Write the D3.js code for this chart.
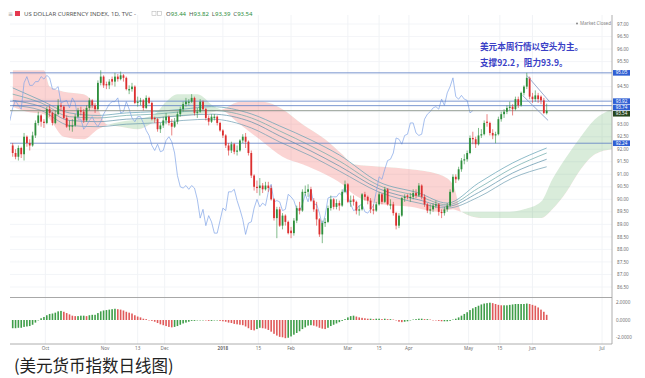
<!DOCTYPE html>
<html>
<head>
<meta charset="utf-8">
<script src="https://cdn.jsdelivr.net/npm/d3@7"></script>
<style>
  html, body { margin: 0; padding: 0; background: #fff; }
  svg { display: block; font-family: "Noto Sans", "DejaVu Sans", sans-serif; }
</style>
</head>
<body>
<div id="chart"></div>
<script>
// daily bars, Sep 14 2017 .. Jun 7 2018 (index = bar number)
const opens = [92.15,91.85,91.70,92.05,91.80,92.50,92.25,92.15,92.55,93.05,93.35,93.10,93.05,93.60,93.45,93.05,93.40,93.75,93.70,93.25,
  92.90,92.90,92.95,93.30,93.55,93.50,93.15,93.65,93.95,93.75,93.60,94.65,94.90,94.60,94.55,94.80,94.70,94.90,94.80,94.95,
  94.85,94.35,94.40,94.50,93.85,93.90,93.95,93.65,94.05,93.85,93.25,93.20,92.80,92.95,93.15,93.30,93.05,92.90,93.10,93.40,
  93.60,93.80,93.85,93.90,94.05,93.45,93.50,93.90,93.60,93.25,93.10,93.25,93.30,93.05,92.75,92.55,92.15,91.95,92.20,91.90,
  91.95,92.35,92.50,92.30,91.85,90.95,90.50,90.45,90.55,90.40,90.55,90.45,90.00,89.25,89.60,88.95,89.35,89.10,88.75,88.65,
  89.15,89.65,89.55,90.25,90.30,90.40,89.95,89.60,89.20,88.60,89.05,89.10,89.65,90.00,89.70,89.85,89.75,90.30,90.60,89.90,
  90.00,89.90,89.55,89.60,90.20,90.10,89.95,89.60,89.55,89.80,90.20,89.90,90.40,89.75,89.80,89.45,88.95,89.35,90.05,90.15,
  90.05,90.10,90.25,90.15,90.55,90.10,89.80,89.55,89.60,89.75,89.80,89.50,89.45,89.60,89.75,90.30,90.90,90.80,91.20,91.55,
  91.60,91.85,92.45,92.40,92.20,92.55,92.60,93.10,93.05,92.65,92.55,92.60,93.20,93.40,93.50,93.65,93.70,93.60,94.00,93.75,
  94.25,94.50,94.85,94.10,94.00,94.15,94.10,93.95,93.44];
const highs = [92.25,92.00,92.15,92.10,92.65,92.55,92.40,92.70,93.15,93.50,93.40,93.20,93.70,93.75,93.50,93.55,94.00,93.85,93.75,93.35,
  93.15,93.20,93.40,93.65,93.70,93.60,93.75,94.05,94.00,93.85,94.75,95.15,94.95,94.70,94.80,94.90,95.05,95.00,95.10,95.00,
  94.90,94.55,94.65,94.55,94.10,94.05,94.00,94.15,94.10,93.90,93.30,93.25,93.05,93.30,93.45,93.35,93.20,93.25,93.50,93.70,
  93.90,94.05,94.00,94.20,94.10,93.65,94.00,93.95,93.65,93.35,93.40,93.40,93.35,93.10,92.80,92.60,92.25,92.30,92.25,92.15,
  92.40,92.60,92.65,92.35,91.95,91.00,90.75,90.85,90.65,90.70,90.70,90.55,90.05,89.70,89.70,89.45,89.40,89.15,88.90,89.25,
  89.75,89.90,90.40,90.55,90.60,90.50,90.05,89.90,89.25,89.15,89.25,89.75,90.15,90.05,90.00,89.95,90.40,90.75,90.65,90.15,
  90.15,89.95,89.75,90.25,90.30,90.15,90.05,89.80,89.90,90.30,90.25,90.50,90.45,90.00,89.90,89.50,89.45,90.10,90.20,90.20,
  90.25,90.40,90.40,90.65,90.60,90.20,89.85,89.80,89.85,89.95,89.85,89.60,89.70,89.85,90.40,91.00,91.00,91.30,91.65,91.80,
  91.95,92.55,92.70,92.50,92.85,92.80,93.15,93.40,93.10,92.80,92.70,93.30,93.50,93.60,93.75,93.90,93.80,94.10,94.10,94.30,
  94.55,95.05,94.90,94.25,94.35,94.25,94.15,94.05,93.82];
const lows = [91.70,91.60,91.55,91.65,91.55,92.10,91.95,92.10,92.45,92.95,92.90,92.85,93.00,93.30,92.95,93.00,93.35,93.55,93.20,92.85,
  92.75,92.70,92.90,93.25,93.35,93.05,93.10,93.55,93.65,93.45,93.55,94.55,94.45,94.40,94.40,94.55,94.50,94.70,94.75,94.70,
  94.35,94.20,94.30,93.80,93.70,93.75,93.55,93.60,93.80,93.15,93.05,92.70,92.65,92.85,93.00,92.95,92.55,92.85,93.00,93.30,
  93.50,93.70,93.75,93.85,93.35,93.25,93.45,93.55,93.15,92.95,93.05,93.15,92.95,92.70,92.45,92.05,91.75,91.85,91.80,91.75,
  91.90,92.25,92.05,91.75,90.85,90.35,90.25,90.15,90.25,90.35,90.30,89.95,89.15,88.45,88.90,88.80,88.95,88.60,88.45,88.55,
  89.05,89.40,89.50,90.15,90.10,89.90,89.50,88.95,88.50,88.25,88.90,89.05,89.55,89.60,89.60,89.55,89.70,90.25,89.85,89.70,
  89.75,89.40,89.35,89.55,89.95,89.80,89.45,89.40,89.50,89.75,89.80,89.85,89.75,89.60,89.35,88.80,88.85,89.30,89.90,90.00,
  89.90,90.00,90.05,90.10,90.00,89.70,89.45,89.40,89.50,89.65,89.35,89.25,89.35,89.50,89.70,90.25,90.65,90.75,91.10,91.40,
  91.50,91.80,92.20,92.05,92.15,92.45,92.55,92.90,92.55,92.40,92.24,92.55,93.10,93.25,93.40,93.55,93.35,93.55,93.65,93.70,
  94.15,94.40,94.00,93.85,93.90,93.85,93.80,93.40,93.39];
const closes = [91.85,91.70,92.05,91.80,92.50,92.25,92.15,92.55,93.05,93.35,93.10,93.05,93.60,93.45,93.05,93.40,93.75,93.70,93.25,92.90,
  92.95,92.95,93.30,93.55,93.50,93.15,93.65,93.95,93.75,93.60,94.65,94.90,94.55,94.55,94.70,94.70,94.90,94.80,94.95,94.85,
  94.40,94.40,94.50,93.85,93.90,93.95,93.65,94.05,93.85,93.20,93.20,92.80,92.95,93.15,93.30,93.05,92.90,93.10,93.40,93.60,
  93.80,93.90,93.90,94.05,93.45,93.50,93.90,93.60,93.25,93.10,93.30,93.30,93.05,92.75,92.55,92.15,91.95,92.20,91.90,91.95,
  92.35,92.50,92.30,91.85,90.95,90.50,90.45,90.55,90.40,90.55,90.45,90.00,89.25,89.60,88.95,89.35,89.10,88.65,88.65,89.15,
  89.65,89.55,90.30,90.30,90.40,89.95,89.60,89.20,88.60,89.05,89.10,89.65,90.00,89.70,89.85,89.75,90.30,90.60,89.90,89.95,
  89.90,89.55,89.60,90.20,90.10,89.95,89.60,89.55,89.80,90.20,89.90,90.40,89.80,89.80,89.45,88.95,89.35,90.05,90.10,90.10,
  90.10,90.25,90.15,90.55,90.10,89.80,89.55,89.60,89.75,89.80,89.50,89.45,89.60,89.75,90.30,90.90,90.80,91.20,91.55,91.60,
  91.85,92.45,92.40,92.20,92.55,92.60,93.05,93.05,92.65,92.55,92.60,93.20,93.40,93.50,93.65,93.70,93.60,94.00,93.75,94.25,
  94.50,94.85,94.10,94.00,94.15,94.00,93.95,93.45,93.54];

// MACD histogram, one value per bar
const macdHist = [-0.95,-0.95,-0.9,-0.9,-0.8,-0.75,-0.7,-0.55,
  -0.3,-0.05,0.2,0.35,0.55,0.7,0.75,0.85,1.0,
  1.05,0.95,0.8,0.65,0.5,0.45,0.45,
  0.5,0.5,0.45,0.55,0.6,0.6,0.8,
  1.0,1.1,1.15,1.2,1.25,1.3,
  1.25,1.2,1.1,0.95,0.85,0.75,0.55,0.4,0.3,
  0.15,0.1,0.0,-0.1,-0.2,
  -0.35,-0.5,-0.6,-0.7,-0.8,-0.85,-0.8,-0.7,
  -0.55,-0.4,-0.3,-0.2,-0.1,
  -0.1,-0.05,0.0,0.0,-0.05,-0.1,-0.1,-0.05,-0.05,-0.1,-0.15,
  -0.2,-0.3,-0.35,-0.45,-0.5,-0.55,-0.6,-0.75,-0.95,-1.15,-1.2,
  -1.05,-0.9,-0.95,-1.0,-1.15,-1.35,-1.6,-1.8,-1.95,-2.0,-2.1,-2.05,
  -1.9,-1.7,-1.5,-1.3,-1.05,-0.85,-0.65,-0.6,-0.65,-0.75,-0.9,-1.0,-1.05,
  -0.9,-0.7,-0.55,-0.4,-0.25,-0.1,0.1,0.3,0.45,0.5,
  0.4,0.3,0.25,0.2,0.15,0.15,0.1,0.15,0.15,0.1,0.15,0.1,0.1,0.05,
  -0.05,-0.2,-0.25,-0.2,-0.15,-0.05,0.05,0.1,0.15,0.15,
  0.1,0.1,0.05,0.0,-0.05,-0.1,-0.15,-0.15,-0.15,-0.1,
  0.05,0.15,0.3,0.5,0.7,0.9,1.15,1.35,1.5,1.65,1.8,1.9,1.95,2.0,
  1.95,1.85,1.75,1.7,1.7,1.7,1.75,1.8,1.85,1.85,1.85,1.85,
  1.9,1.85,1.75,1.65,1.45,1.2,0.95,0.6];

// ichimoku cloud edges (leading spans), read at a few bars
const cloudIdx = [0,5,11,13,18,25,30,33,38,44,50,54,58,65,71,74,80,88,95,102,110,116,120,130,140,150,155,158,165,175,180,186,190,195,200,205,211];
const spanA = [93.7,93.5,93.4,93.2,92.5,92.4,92.8,92.95,93.1,93.2,93.4,93.9,94.2,94.2,93.7,93.55,93.0,92.3,91.7,91.4,91.0,90.6,90.2,89.8,89.7,89.5,89.6,89.5,89.5,89.5,89.6,89.9,90.8,91.7,92.5,93.2,93.6];
const spanB = [95.15,95.15,95.15,94.5,94.3,94.2,93.6,93.0,92.9,92.8,93.1,93.3,93.3,93.4,93.5,93.6,93.9,93.9,93.6,93.0,92.4,91.8,91.4,91.3,91.2,91.0,90.6,89.5,89.25,89.25,89.25,89.25,89.6,90.3,91.2,91.8,92.0];

// moving average ribbon, read at a few bars
const maIdx = [0,10,20,30,40,50,60,70,84,94,105,115,129,143,153,164,176,188];
const ma1 = [94.45,93.95,93.45,93.35,93.45,93.5,93.6,93.7,93.41,92.93,92.37,91.77,90.69,90.25,89.85,90.65,91.45,92.05];
const ma2 = [94.2,93.85,93.3,93.25,93.35,93.4,93.5,93.55,93.25,92.73,92.13,91.53,90.55,90.12,89.78,90.45,91.25,91.85];
const ma3 = [93.95,93.7,93.15,93.1,93.2,93.25,93.35,93.4,93.09,92.53,91.93,91.33,90.42,89.98,89.72,90.27,91.05,91.6];
const ma4 = [93.75,93.55,92.95,92.9,93.0,93.05,93.15,93.2,92.85,92.29,91.73,91.13,90.29,89.85,89.65,90.09,90.85,91.3];

// drawn horizontal levels and their price badges
const levels = [95.05, 93.92, 93.74, 93.54, 92.24];
const levelColors = ["#5b7cc4", "#5b7cc4", "#5b7cc4", "#7d8a7d", "#5b7cc4"];
const badgeColors = ["#2f5fd3", "#2f5fd3", "#2f5fd3", "#27461f", "#2f5fd3"];

// descending channel drawn after the top: [startIdx, startPrice, endIdx, endPrice]
const channelUpper = [181, 94.95, 189, 93.9];
const channelLower = [179.5, 94.15, 188.5, 93.15];

// axis ticks
const priceTicks = d3.range(86.5, 97.01, 0.5);
const macdTicks = [2, 0, -2];
const timeLabels = ["Oct", "Nov", "13", "Dec", "2018", "15", "Feb", "Mar", "15", "Apr", "May", "15", "Jun", "Jul"];
const timeIdx = [11.5, 32.5, 44, 53.5, 74, 86.5, 98, 118, 129, 139.5, 160.5, 171.5, 183, 207.5];

const chikouShift = 26;

const W = 645, H = 378;
const UP = "#2e8f3c", DOWN = "#dc2f2f";

const svg = d3.select("#chart").append("svg").attr("width", W).attr("height", H);

const x = d3.scaleLinear().domain([0, 211]).range([12.7, 612]);
const y = d3.scaleLinear().domain([86.5, 97]).range([287, 24]);
const yM = d3.scaleLinear().domain([-2, 2]).range([337.3, 302.7]);

const defs = svg.append("defs");
defs.append("clipPath").attr("id", "pane")
  .append("rect").attr("x", 10).attr("y", 15).attr("width", 602).attr("height", 282);

// grid
const grid = svg.append("g");
grid.selectAll("line.v").data(timeIdx).join("line")
  .attr("x1", d => x(d)).attr("x2", d => x(d)).attr("y1", 15).attr("y2", 344)
  .attr("stroke", "#eef0f4").attr("stroke-width", 0.8);
grid.selectAll("line.h").data(priceTicks).join("line")
  .attr("x1", 10).attr("x2", 612).attr("y1", d => y(d)).attr("y2", d => y(d))
  .attr("stroke", "#f0f2f6").attr("stroke-width", 0.8);

const pane = svg.append("g").attr("clip-path", "url(#pane)");

// cloud: one area between the spans, split by clipping on span B
const cx = (d, k) => x(cloudIdx[k]);
const cloudArea = d3.area().x(cx).y0((d, k) => y(spanB[k])).y1((d, k) => y(spanA[k])).curve(d3.curveMonotoneX);
const aboveB = d3.area().x(cx).y0(0).y1((d, k) => y(spanB[k])).curve(d3.curveMonotoneX);
const belowB = d3.area().x(cx).y0((d, k) => y(spanB[k])).y1(400).curve(d3.curveMonotoneX);
defs.append("clipPath").attr("id", "bull").append("path").attr("d", aboveB(cloudIdx));
defs.append("clipPath").attr("id", "bear").append("path").attr("d", belowB(cloudIdx));
pane.append("path").attr("d", cloudArea(cloudIdx)).attr("clip-path", "url(#bull)")
  .attr("fill", "rgba(67,160,71,0.2)");
pane.append("path").attr("d", cloudArea(cloudIdx)).attr("clip-path", "url(#bear)")
  .attr("fill", "rgba(239,83,80,0.25)");

// moving average ribbon
const maLine = d3.line().x((d, k) => x(maIdx[k])).y(d => y(d)).curve(d3.curveMonotoneX);
[ma1, ma2, ma3, ma4].forEach(function (arr, k) {
  pane.append("path").attr("d", maLine(arr)).attr("fill", "none")
    .attr("stroke", ["#5f9fb2", "#6aa7a7", "#5c8fa8", "#6d9cb0"][k]).attr("stroke-width", 0.7);
});

// lagging span: closes shifted back
const chikou = d3.line().x(i => x(i - chikouShift)).y(i => y(closes[i]));
pane.append("path").attr("d", chikou(d3.range(closes.length))).attr("fill", "none")
  .attr("stroke", "#7fa3e6").attr("stroke-width", 0.7);

// horizontal levels
pane.selectAll("line.lvl").data(levels).join("line")
  .attr("x1", 10).attr("x2", 612).attr("y1", d => y(d)).attr("y2", d => y(d))
  .attr("stroke", (d, k) => levelColors[k]).attr("stroke-width", 0.8);

// candles
const N = closes.length;
const bars = d3.range(N);
const col = i => closes[i] >= opens[i] ? UP : DOWN;
pane.selectAll("line.wick").data(bars).join("line")
  .attr("x1", i => x(i)).attr("x2", i => x(i))
  .attr("y1", i => y(highs[i])).attr("y2", i => y(lows[i]))
  .attr("stroke", col).attr("stroke-width", 0.6);
const bw = 1.8;
pane.selectAll("rect.body").data(bars).join("rect")
  .attr("x", i => x(i) - bw / 2).attr("width", bw)
  .attr("y", i => y(Math.max(opens[i], closes[i])))
  .attr("height", i => Math.max(0.7, Math.abs(y(opens[i]) - y(closes[i]))))
  .attr("fill", col);

// channel
[channelUpper, channelLower].forEach(function (c) {
  pane.append("line").attr("x1", x(c[0])).attr("y1", y(c[1])).attr("x2", x(c[2])).attr("y2", y(c[3]))
    .attr("stroke", "#8196c4").attr("stroke-width", 0.8);
});

// annotation
const note = svg.append("g").attr("font-family", "'Noto Sans CJK SC', sans-serif")
  .attr("font-size", 8.6).attr("font-weight", 700).attr("fill", "#3a3fc6");
note.append("text").attr("x", 480).attr("y", 49.5).text("美元本周行情以空头为主。");
note.append("text").attr("x", 480).attr("y", 66).text("支撑92.2，阻力93.9。");

// MACD histogram
const mb = svg.append("g");
mb.selectAll("rect").data(bars).join("rect")
  .attr("x", i => x(i) - 0.8).attr("width", 1.6)
  .attr("y", i => Math.min(yM(0), yM(macdHist[i])))
  .attr("height", i => Math.max(0.4, Math.abs(yM(macdHist[i]) - yM(0))))
  .attr("fill", i => (i === 0 || macdHist[i] >= macdHist[i - 1]) ? "#3f9e49" : "#e05a5a");

// frame lines
svg.append("line").attr("x1", 10).attr("x2", 612).attr("y1", 297.5).attr("y2", 297.5)
  .attr("stroke", "#a8a8a8").attr("stroke-width", 1);
svg.append("line").attr("x1", 10).attr("x2", 612).attr("y1", 344).attr("y2", 344)
  .attr("stroke", "#9a9a9a").attr("stroke-width", 0.8);
svg.append("line").attr("x1", 612).attr("x2", 612).attr("y1", 15).attr("y2", 344)
  .attr("stroke", "#9a9a9a").attr("stroke-width", 0.8);

// right price axis
const ax = svg.append("g").attr("font-size", 4.6).attr("fill", "#6f6f6f");
ax.selectAll("text.p").data(priceTicks).join("text")
  .attr("x", 617).attr("y", d => y(d) + 1.6).text(d => d.toFixed(2));
ax.selectAll("text.m").data(macdTicks).join("text")
  .attr("x", 616).attr("y", d => yM(d) + 1.6).text(d => d.toFixed(4));

// badges, pushed apart so they do not overlap
const badgeH = 5.6, badgeGap = 6.3;
const badgeY = [];
levels.map(d => y(d)).forEach(function (v, k) {
  badgeY.push(k && v < badgeY[k - 1] + badgeGap ? badgeY[k - 1] + badgeGap : v);
});
// hide plain ticks that sit under a badge
ax.selectAll("text").filter(function (d) {
  if (typeof d !== "number" || Math.abs(d) <= 2) return false;
  return badgeY.some(b => Math.abs(y(d) - b) < 4.5);
}).remove();
const bdg = svg.append("g");
bdg.selectAll("rect").data(levels).join("rect")
  .attr("x", 613).attr("width", 17).attr("y", (d, k) => badgeY[k] - badgeH / 2).attr("height", badgeH)
  .attr("fill", (d, k) => badgeColors[k]);
bdg.selectAll("text").data(levels).join("text")
  .attr("x", 621.5).attr("y", (d, k) => badgeY[k] + 1.6).attr("text-anchor", "middle")
  .attr("font-size", 4.6).attr("fill", "#fff").text(d => d.toFixed(2));

// time axis
svg.append("g").attr("font-size", 4.6).attr("fill", "#6f6f6f")
  .selectAll("text").data(timeLabels).join("text")
  .attr("x", (d, k) => x(timeIdx[k])).attr("y", 350).attr("text-anchor", "middle")
  .attr("font-weight", d => d === "2018" ? 700 : 400).text(d => d);

// header
const hd = svg.append("g").attr("font-size", 6).attr("fill", "#555");
hd.append("text").attr("x", 8).attr("y", 15.5).attr("font-size", 6).attr("fill", "#999").text("≡");
hd.append("rect").attr("x", 15).attr("y", 11).attr("width", 5).attr("height", 5).attr("fill", "#e53950");
hd.append("text").attr("x", 24).attr("y", 15.5).text("US DOLLAR CURRENCY INDEX, 1D, TVC -");
hd.append("rect").attr("x", 152).attr("y", 11.5).attr("width", 4).attr("height", 4).attr("fill", "none").attr("stroke", "#bbb").attr("stroke-width", 0.6);
hd.append("rect").attr("x", 157.5).attr("y", 11.5).attr("width", 4).attr("height", 4).attr("fill", "none").attr("stroke", "#bbb").attr("stroke-width", 0.6);
const ohlc = hd.append("text").attr("x", 166).attr("y", 15.5);
[["O", opens[N - 1]], ["H", highs[N - 1]], ["L", lows[N - 1]], ["C", closes[N - 1]]].forEach(function (p, k) {
  ohlc.append("tspan").attr("dx", k ? 3 : 0).attr("fill", "#555").text(p[0]);
  ohlc.append("tspan").attr("fill", "#2e8f3c").text(p[1].toFixed(2));
});

svg.append("circle").attr("cx", 577).attr("cy", 23.5).attr("r", 1).attr("fill", "#888");
svg.append("text").attr("x", 580).attr("y", 25.3).attr("font-size", 4.6).attr("fill", "#888").text("Market Closed");

// caption
svg.append("text").attr("x", 14).attr("y", 372)
  .attr("font-family", "'Noto Sans CJK SC', sans-serif").attr("font-size", 16.5).attr("fill", "#222")
  .text("(美元货币指数日线图)");
</script>
</body>
</html>
